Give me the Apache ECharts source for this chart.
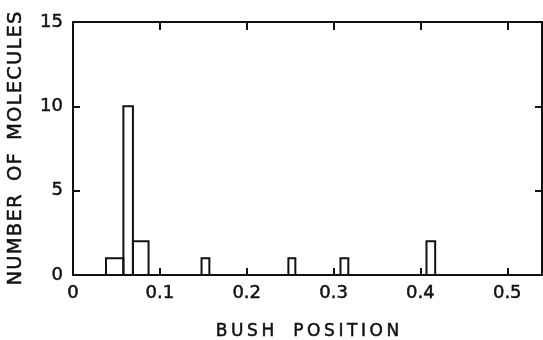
<!DOCTYPE html>
<html>
<head>
<meta charset="utf-8">
<script src="https://cdn.jsdelivr.net/npm/echarts@6/dist/echarts.min.js"></script>
<style>
  html, body { margin: 0; padding: 0; background: #fff; }
  #chart { width: 543px; height: 340px; }
</style>
</head>
<body>
<div id="chart"></div>
<script>
// histogram bins
var binStart = [0.038, 0.058, 0.069, 0.148, 0.248, 0.308, 0.407]
var binEnd = [0.058, 0.069, 0.087, 0.157, 0.256, 0.317, 0.417]
var counts = [1, 10, 2, 1, 1, 1, 2]

var xTicks = [0, 0.1, 0.2, 0.3, 0.4, 0.5]
var yTicks = [0, 5, 10, 15]

var bins = binStart.map(function(s, i) {
  return [s, binEnd[i], counts[i]]
})

var font = 'DejaVu Sans'
var ink = '#111'
// thin outline to thicken the strokes a little, like the original lettering
var heavy = { textBorderColor: ink, textBorderWidth: 0.5 }

// wide lettering like the original: every character in its own rich segment
function spaced(text) {
  return text.split('').map(function(c) {
    return c === ' ' ? '{w| }' : '{c|' + c + '}'
  }).join('')
}

function txt(size, extra) {
  return Object.assign({ fontFamily: font, fontSize: size, color: ink }, heavy, extra || {})
}

function frameAxis(pos, max, interval, len) {
  return {
    type: 'value',
    position: pos,
    min: 0,
    max: max,
    interval: interval,
    axisLine: { show: true, onZero: false, lineStyle: { color: ink, width: 2 } },
    axisTick: { show: true, inside: true, length: len, lineStyle: { color: ink, width: 2 } },
    axisLabel: { show: false },
    splitLine: { show: false }
  }
}

var myChart = echarts.init(document.getElementById('chart'))

var option = {
  backgroundColor: '#fff',
  animation: false,
  grid: { left: 73, right: 1, top: 22, bottom: 65, outerBoundsMode: 'none' },
  xAxis: [{
    type: 'value',
    position: 'bottom',
    min: 0,
    max: 0.54,
    interval: 0.1,
    name: spaced('BUSH POSITION'),
    nameLocation: 'middle',
    nameGap: 48,
    nameTextStyle: txt(17, {
      rich: {
        c: txt(17, { padding: [0, 1.8, 0, 1.8] }),
        w: txt(17, { padding: [0, 5, 0, 5] })
      }
    }),
    axisLine: { show: true, onZero: false, lineStyle: { color: ink, width: 2 } },
    axisTick: { show: true, inside: true, length: 7, lineStyle: { color: ink, width: 2 } },
    splitLine: { show: false },
    axisLabel: Object.assign(txt(18), {
      margin: 9,
      showMaxLabel: false,
      formatter: function(v) {
        var hit = xTicks.filter(function(t) { return Math.abs(t - v) < 1e-9 })
        return hit.length ? String(hit[0]) : ''
      }
    })
  }, frameAxis('top', 0.54, 0.1, 8)],
  yAxis: [{
    type: 'value',
    position: 'left',
    min: 0,
    max: 15,
    interval: 5,
    name: spaced('NUMBER OF MOLECULES'),
    nameLocation: 'middle',
    nameGap: 47,
    nameTextStyle: txt(19.5, {
      rich: {
        c: txt(19.5, { padding: [0, 0.6, 0, 0.6] }),
        w: txt(19.5, { padding: [0, 3, 0, 3] })
      }
    }),
    axisLine: { show: true, onZero: false, lineStyle: { color: ink, width: 2 } },
    axisTick: { show: true, inside: true, length: 7, lineStyle: { color: ink, width: 2 } },
    splitLine: { show: false },
    axisLabel: Object.assign(txt(18), {
      margin: 10,
      formatter: function(v) {
        return yTicks.indexOf(v) >= 0 ? String(v) : ''
      }
    })
  }, frameAxis('right', 15, 5, 7)],
  series: [{
    type: 'custom',
    xAxisIndex: 0,
    yAxisIndex: 0,
    data: bins,
    renderItem: function(params, api) {
      var p0 = api.coord([api.value(0), api.value(2)])
      var p1 = api.coord([api.value(1), 0])
      return {
        type: 'rect',
        shape: { x: p0[0], y: p0[1], width: p1[0] - p0[0], height: p1[1] - p0[1] },
        style: { fill: 'none', stroke: ink, lineWidth: 2 }
      }
    }
  }, {
    // empty series so the top and right frame axes get drawn
    type: 'line',
    xAxisIndex: 1,
    yAxisIndex: 1,
    data: []
  }]
}

myChart.setOption(option)
</script>
</body>
</html>
